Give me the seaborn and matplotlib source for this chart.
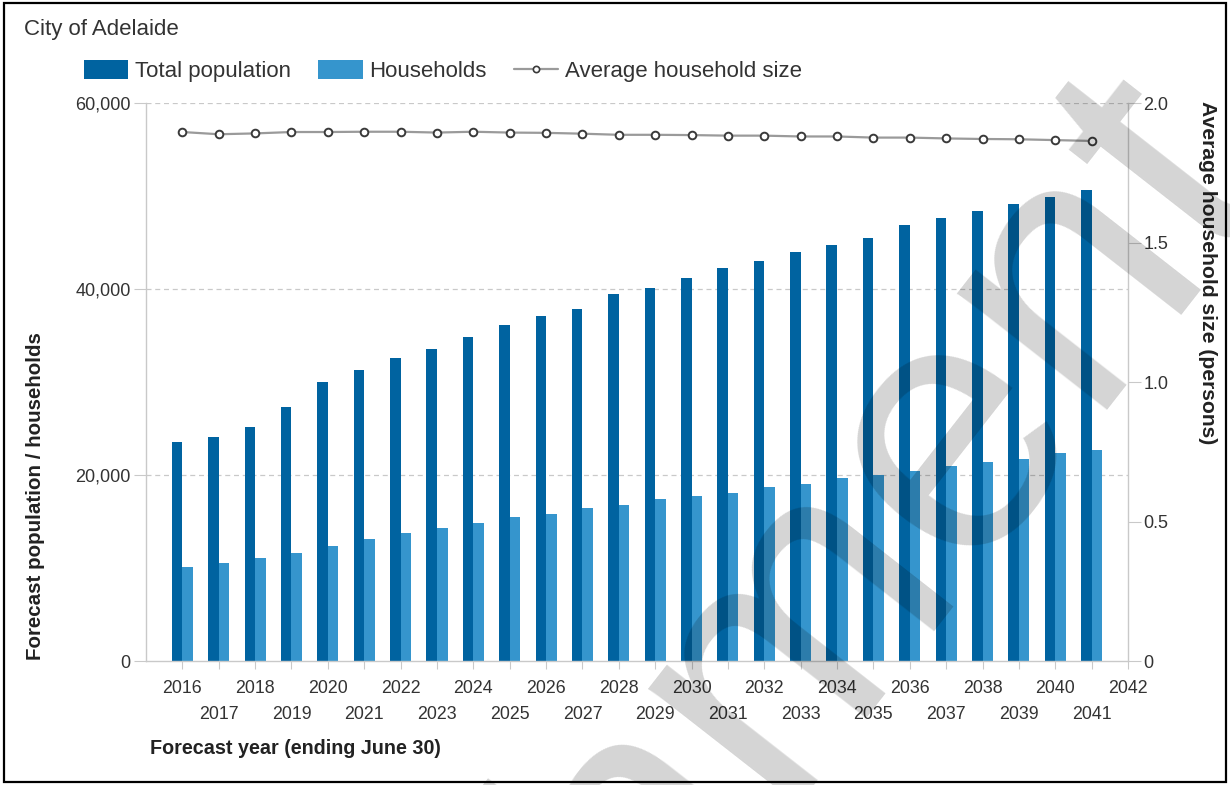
import matplotlib
matplotlib.use("Agg")
import matplotlib.pyplot as plt
import matplotlib.ticker as mticker
from matplotlib.patches import Patch, Rectangle
from matplotlib.lines import Line2D
import pandas as pd
import seaborn as sns

# Forecast data, City of Adelaide
years = list(range(2016, 2042))
total_population = [23500, 24050, 25200, 27300, 29950, 31300, 32550, 33550, 34800,
                    36100, 37100, 37850, 39450, 40150, 41150, 42250, 43000, 43950,
                    44700, 45500, 46850, 47600, 48350, 49150, 49900, 50650]
households = [10080, 10500, 11040, 11650, 12400, 13150, 13730, 14340, 14870,
              15480, 15840, 16420, 16810, 17380, 17740, 18100, 18670, 19070,
              19640, 20030, 20430, 20970, 21360, 21750, 22330, 22720]
avg_household_size = [1.896, 1.888, 1.891, 1.896, 1.896, 1.897, 1.897, 1.894, 1.897,
                      1.894, 1.893, 1.890, 1.886, 1.886, 1.885, 1.883, 1.883, 1.880,
                      1.880, 1.876, 1.876, 1.873, 1.871, 1.870, 1.867, 1.864]
series_names = ["Total population", "Households"]
line_name = "Average household size"

DARK = "#0063A0"
LIGHT = "#3595CD"
GRID = "#c9c9c9"
TXT = "#333333"

sns.set_style("white")
plt.rcParams["font.family"] = ["Liberation Sans", "DejaVu Sans"]

long_df = pd.DataFrame({
    "year": years * 2,
    "value": total_population + households,
    "series": [series_names[0]] * len(years) + [series_names[1]] * len(years),
})

fig = plt.figure(figsize=(12.3, 7.85), dpi=100)
ax = fig.add_axes([146 / 1230, 1 - 661 / 785, (1128 - 146) / 1230, (661 - 103) / 785])

sns.barplot(data=long_df, x="year", y="value", hue="series", hue_order=series_names,
            palette=[DARK, LIGHT], native_scale=True, width=0.58, gap=0,
            errorbar=None, legend=False, ax=ax, saturation=1, zorder=2,
            linewidth=0, edgecolor="none")

ax.set_xlim(2015, 2042)
ax.set_ylim(0, 60000)
ax.set_xlabel("")
ax.set_ylabel("")

# alternating two-row year labels
even_years = list(range(2016, 2043, 2))
odd_years = list(range(2017, 2042, 2))
ax.set_xticks(even_years)
ax.set_xticklabels([str(y) for y in even_years])
ax.set_xticks(odd_years, minor=True)
ax.set_xticklabels([str(y) for y in odd_years], minor=True)
ax.tick_params(axis="x", which="both", length=6, width=0.8, color=GRID,
               labelsize=12.8, labelcolor=TXT, direction="out", bottom=True)
ax.tick_params(axis="x", which="major", pad=7.5)
ax.tick_params(axis="x", which="minor", pad=26.5)

ax.set_yticks([0, 20000, 40000, 60000])
ax.yaxis.set_major_formatter(mticker.FuncFormatter(lambda v, p: f"{int(v):,}"))
ax.tick_params(axis="y", length=9, width=0.8, color=GRID, labelsize=13,
               labelcolor=TXT, pad=2, left=True, direction="out")

for y in [20000, 40000, 60000]:
    ax.axhline(y, color=GRID, lw=0.9, ls=(0, (4, 3)), zorder=1)

for side in ["top", "right"]:
    ax.spines[side].set_visible(False)
for side in ["left", "bottom"]:
    ax.spines[side].set_color(GRID)
    ax.spines[side].set_linewidth(1.0)

# secondary axis: average household size
ax2 = ax.twinx()
sns.lineplot(x=years, y=avg_household_size, ax=ax2, color="#9a9a9a", linewidth=1.6,
             marker="o", markersize=5.5, markerfacecolor="white",
             markeredgecolor="#3a3a3a", markeredgewidth=1.4, zorder=3)
ax2.set_ylim(0, 2.0)
ax2.set_yticks([0, 0.5, 1.0, 1.5, 2.0])
ax2.set_yticklabels(["0", "0.5", "1.0", "1.5", "2.0"])
ax2.tick_params(axis="y", length=9, width=0.8, color=GRID, labelsize=13,
                labelcolor=TXT, pad=2, right=True, direction="out")
ax2.set_ylabel("")
for side in ["top", "left", "bottom"]:
    ax2.spines[side].set_visible(False)
ax2.spines["right"].set_color(GRID)
ax2.spines["right"].set_linewidth(1.0)

# titles and axis labels
fig.text(24 / 1230, 1 - 29 / 785, "City of Adelaide", fontsize=16, color=TXT,
         ha="left", va="center")
fig.text(150 / 1230, 1 - 748 / 785, "Forecast year (ending June 30)", fontsize=14.2,
         fontweight="bold", color="#222222", ha="left", va="center")
fig.text(36 / 1230, 1 - 660 / 785, "Forecast population / households", fontsize=14.8,
         fontweight="bold", color="#222222", ha="center", va="bottom", rotation=90)
fig.text(1208 / 1230, 1 - 101 / 785, "Average household size (persons)", fontsize=15.2,
         fontweight="bold", color="#222222", ha="center", va="top", rotation=270)

# legend
handles = [
    Patch(facecolor=DARK, edgecolor="none", label=series_names[0]),
    Patch(facecolor=LIGHT, edgecolor="none", label=series_names[1]),
    Line2D([0], [0], color="#9a9a9a", lw=1.6, marker="o", markersize=4.5,
           markerfacecolor="white", markeredgecolor="#3a3a3a", markeredgewidth=1.2,
           label=line_name),
]
fig.legend(handles=handles, loc="center left", bbox_to_anchor=(84 / 1230, 1 - 71 / 785),
           ncol=3, frameon=False, fontsize=16, handlelength=2.0, handleheight=0.9,
           handletextpad=0.3, columnspacing=1.22, borderpad=0, borderaxespad=0,
           labelcolor=TXT)

# page frame
fig.patches.append(Rectangle((4 / 1230, 3 / 785), 1222 / 1230, 779 / 785,
                             transform=fig.transFigure, fill=False,
                             edgecolor="black", linewidth=1.6, zorder=50))

# document watermark
fig.text(0.522, -0.087, "Attachment", fontsize=260, fontweight="normal", color="black",
         alpha=0.17, ha="center", va="center", rotation=52, rotation_mode="anchor",
         zorder=100)

fig.savefig("out.png", dpi=100)
